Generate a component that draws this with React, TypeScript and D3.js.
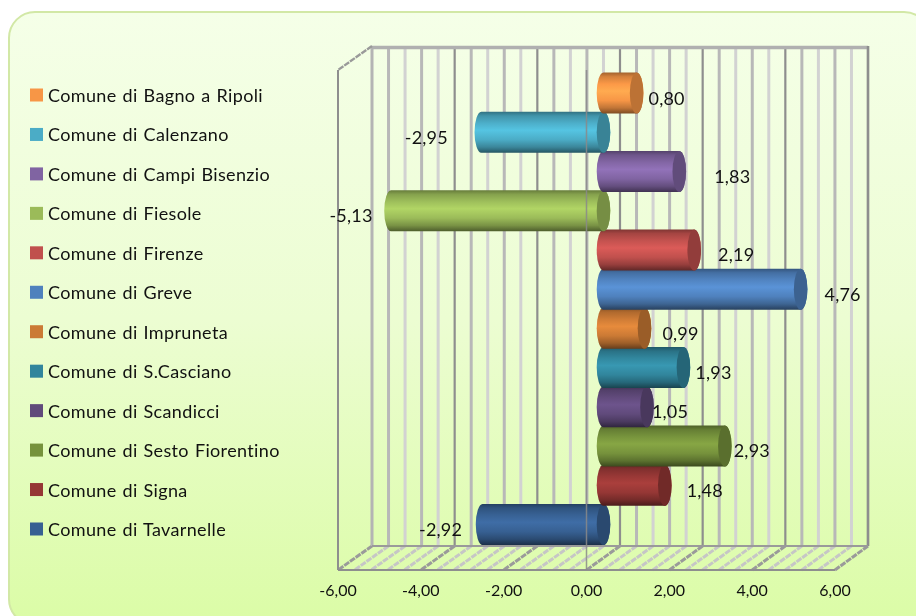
import React, { useMemo } from "react";
import * as d3 from "d3";

const categories = [
  "Comune di Bagno a Ripoli", "Comune di Calenzano", "Comune di Campi Bisenzio", "Comune di Fiesole",
  "Comune di Firenze", "Comune di Greve", "Comune di Impruneta", "Comune di S.Casciano",
  "Comune di Scandicci", "Comune di Sesto Fiorentino", "Comune di Signa", "Comune di Tavarnelle",
];
const values = [0.8, -2.95, 1.83, -5.13, 2.19, 4.76, 0.99, 1.93, 1.05, 2.93, 1.48, -2.92];
const colors = ["#f79646", "#4bacc6", "#8064a2", "#9bbb59", "#c0504d", "#4f81bd", "#cb7a35", "#31859c", "#604a7b", "#76923c", "#953735", "#376092"];
const axisTicks = [-6, -4, -2, 0, 2, 4, 6];
const labelOffsets = [30, -55, 53, -40, 42, 42, 36, 30, 23, 27, 40, -42];

const W = 916, H = 616;
const FONT = "Lato, 'Open Sans', sans-serif";
const backTop = 46, backBottom = 546, frontTop = 70, frontBottom = 570;
const fmt = d3.formatLocale({ decimal: ",", thousands: ".", grouping: [3], currency: ["", "€"], minus: "-" }).format(".2f");

const shade = (c: string, k: number) => {
  const col = d3.rgb(c);
  return d3.rgb(col.r * k, col.g * k, col.b * k).formatHex();
};

export default function App() {
  const front = d3.scaleLinear().domain([-6, 6]).range([338, 835]);
  const back = d3.scaleLinear().domain([-6, 6]).range([372, 868]);
  const mid = d3.scaleLinear().domain([-6, 6]).range([355, 852]);
  const band = d3.scaleBand<number>().domain(d3.range(categories.length)).range([73.5, 544]);
  const legendY = d3.scalePoint<number>().domain(d3.range(categories.length)).range([95, 529]);
  const minor = useMemo(() => d3.range(0, 31).map((i) => -6 + i * 0.4), []);
  const rx = 6.8, barH = 41;

  const gridColor = (i: number) => {
    if (i % 5 === 0) return i === 0 ? "#b4b4b4" : "#8e8e8e";
    return i % 5 === 2 || i % 5 === 4 ? "#d2d2d2" : "#b8b8b8";
  };

  return (
    <svg width={W} height={H} style={{ position: "fixed", left: 0, top: 0, display: "block" }} fontFamily={FONT}>
      <defs>
        <linearGradient id="panel" x1="0" y1="0" x2="0" y2="1">
          <stop offset="0" stopColor="#f5ffe8" />
          <stop offset="0.5" stopColor="#ecfdd2" />
          <stop offset="1" stopColor="#dbfca6" />
        </linearGradient>
        {colors.map((c, i) => (
          <linearGradient key={i} id={`bar${i}`} x1="0" y1="0" x2="0" y2="1">
            <stop offset="0" stopColor={shade(c, 0.66)} />
            <stop offset="0.1" stopColor={shade(c, 0.86)} />
            <stop offset="0.28" stopColor={shade(c, 1.02)} />
            <stop offset="0.45" stopColor={shade(c, 1.14)} />
            <stop offset="0.68" stopColor={shade(c, 1.0)} />
            <stop offset="0.86" stopColor={shade(c, 0.78)} />
            <stop offset="1" stopColor={shade(c, 0.5)} />
          </linearGradient>
        ))}
      </defs>

      <rect x={9} y={12} width={921} height={613} rx={26} ry={26} fill="url(#panel)" stroke="#d2e8a6" strokeWidth={2} />

      {/* floor */}
      {minor.map((v, i) => (
        <line key={i} x1={back(v)} y1={backBottom} x2={front(v)} y2={frontBottom}
          stroke={i % 5 === 0 ? "#9a9a9a" : "#c6c6c6"} strokeWidth={3} strokeDasharray="6 1" />
      ))}
      {/* back wall grid */}
      {minor.map((v, i) => (
        <line key={i} x1={back(v)} y1={backTop} x2={back(v)} y2={backBottom}
          stroke={gridColor(i)} strokeWidth={i % 5 === 0 && i > 0 ? 2.2 : 3} />
      ))}
      <line x1={back(-6)} y1={backTop + 1.5} x2={back(6)} y2={backTop + 1.5} stroke="#b0b0b0" strokeWidth={3.5} />
      <line x1={back(6)} y1={backTop} x2={back(6)} y2={backBottom} stroke="#8e8e8e" strokeWidth={2.5} />
      <line x1={back(-6)} y1={backBottom} x2={back(6)} y2={backBottom} stroke="#9a9a9a" strokeWidth={2} />
      <line x1={back(-6)} y1={backTop} x2={front(-6)} y2={frontTop} stroke="#9a9a9a" strokeWidth={2.4} strokeDasharray="6 1" />
      <line x1={front(-6)} y1={frontTop} x2={front(-6)} y2={frontBottom} stroke="#8e8e8e" strokeWidth={2} />
      <line x1={front(-6)} y1={frontBottom} x2={front(6)} y2={frontBottom} stroke="#8e8e8e" strokeWidth={2} />

      {/* cylinders, lowest first */}
      {d3.range(categories.length).reverse().map((i) => {
        const v = values[i];
        const a = Math.min(mid(0), mid(v));
        const b = Math.max(mid(0), mid(v));
        const t = band(i)! + band.bandwidth() / 2 - barH / 2;
        const body = `M${a},${t}L${b},${t}A${rx},${barH / 2} 0 0 1 ${b},${t + barH}L${a},${t + barH}A${rx},${barH / 2} 0 0 1 ${a},${t}Z`;
        return (
          <g key={i}>
            <path d={body} fill={`url(#bar${i})`} />
            <ellipse cx={b} cy={t + barH / 2} rx={rx} ry={barH / 2} fill={shade(colors[i], 0.76)} />
          </g>
        );
      })}

      <line x1={front(0)} y1={frontTop} x2={front(0)} y2={frontBottom} stroke="#8a8a8a" strokeOpacity={0.85} strokeWidth={1.5} />

      {/* data labels */}
      {values.map((v, i) => (
        <text key={i} x={mid(v) + labelOffsets[i]} y={band(i)! + band.bandwidth() / 2 + 11.5} textAnchor="middle" fontSize={18} letterSpacing={0.2} fill="#111">
          {fmt(v)}
        </text>
      ))}

      {/* axis labels */}
      {axisTicks.map((v) => (
        <text key={v} x={front(v)} y={596} textAnchor="middle" fontSize={16} fill="#111">{fmt(v)}</text>
      ))}

      {/* legend */}
      {categories.map((c, i) => (
        <g key={c}>
          <rect x={30} y={legendY(i)! - 6.5} width={13} height={13} fill={colors[i]} />
          <text x={48} y={legendY(i)! + 7} fontSize={18} letterSpacing={0.35} wordSpacing={1} fill="#111">{c}</text>
        </g>
      ))}
    </svg>
  );
}
